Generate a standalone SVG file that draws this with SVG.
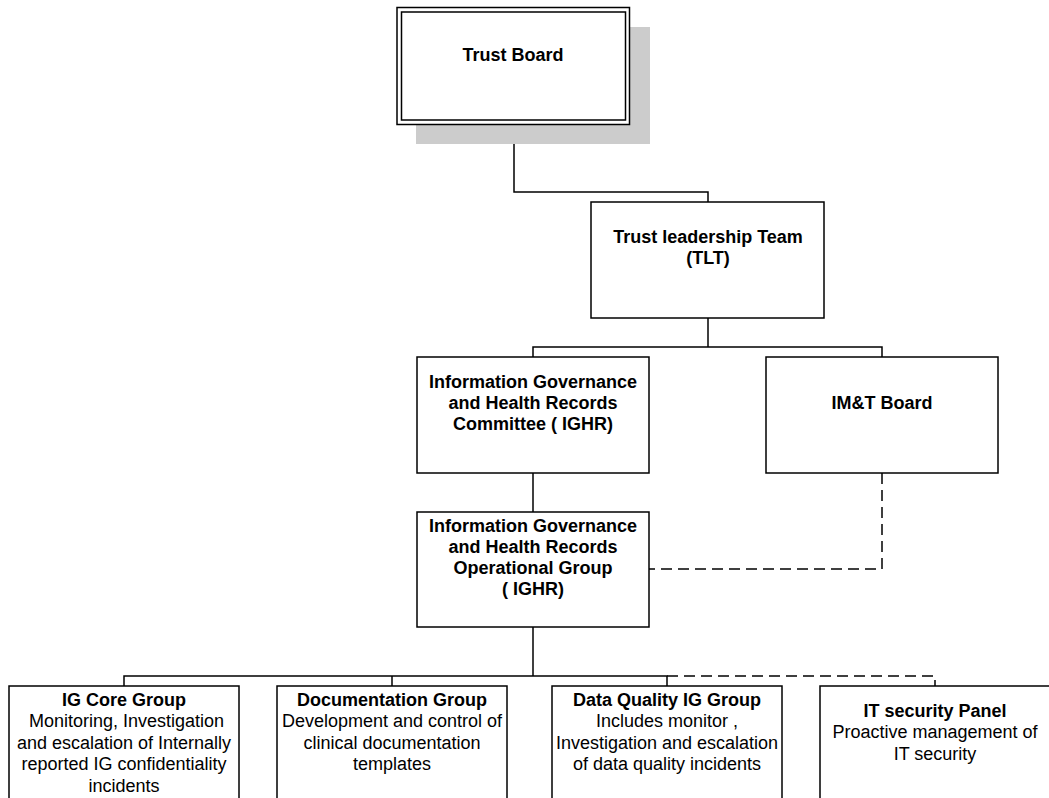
<svg xmlns="http://www.w3.org/2000/svg" width="1049" height="798" viewBox="0 0 1049 798">
<style>
.box{fill:#fff;stroke:#000;stroke-width:1.5}
.ln{fill:none;stroke:#000;stroke-width:1.5}
.dash{fill:none;stroke:#000;stroke-width:1.5;stroke-dasharray:11 6}
text{font-family:"Liberation Sans",Arial,sans-serif;font-size:18px;fill:#000;text-anchor:middle}
.b{font-weight:bold}
</style>
<rect width="1049" height="798" fill="#fff"/>
<g id="connectors">
<polyline class="ln" points="514,125 514,192 708,192 708,202"/>
<polyline class="ln" points="708,318 708,347"/>
<polyline class="ln" points="533,357 533,347 882,347 882,357"/>
<polyline class="ln" points="533,473 533,512"/>
<polyline class="dash" points="882,473 882,569 649,569"/>
<polyline class="ln" points="533,627 533,676"/>
<polyline class="ln" points="124,686 124,676 667,676 667,686"/>
<polyline class="ln" points="392,676 392,686"/>
<polyline class="dash" points="667,676 935,676 935,686"/>
</g>
<g id="trust-board">
<rect x="416" y="27" width="234" height="117" fill="#cccccc"/>
<rect class="box" x="397" y="7.5" width="232.5" height="117"/>
<rect fill="none" stroke="#000" stroke-width="1.5" x="401.5" y="12" width="224" height="108"/>
<text class="b" x="513" y="61">Trust Board</text>
</g>
<g id="tlt">
<rect class="box" x="591" y="202" width="233" height="116"/>
<text class="b" x="708" y="243">Trust leadership Team</text>
<text class="b" x="708" y="264">(TLT)</text>
</g>
<g id="ighr-committee">
<rect class="box" x="417" y="357" width="232" height="116"/>
<text class="b" x="533" y="388">Information Governance</text>
<text class="b" x="533" y="409">and Health Records</text>
<text class="b" x="533" y="430">Committee ( IGHR)</text>
</g>
<g id="imt-board">
<rect class="box" x="766" y="357" width="232" height="116"/>
<text class="b" x="882" y="409">IM&amp;T Board</text>
</g>
<g id="ighr-operational">
<rect class="box" x="417" y="512" width="232" height="115"/>
<text class="b" x="533" y="532">Information Governance</text>
<text class="b" x="533" y="553">and Health Records</text>
<text class="b" x="533" y="574">Operational Group</text>
<text class="b" x="533" y="595">( IGHR)</text>
</g>
<g id="ig-core">
<rect class="box" x="9" y="686" width="230" height="130"/>
<text class="b" x="124" y="706">IG Core Group</text>
<text x="126.5" y="727">Monitoring, Investigation</text>
<text x="124" y="749">and escalation of Internally</text>
<text x="124" y="770">reported IG confidentiality</text>
<text x="124" y="792">incidents</text>
</g>
<g id="documentation">
<rect class="box" x="277" y="686" width="230" height="130"/>
<text class="b" x="392" y="706">Documentation Group</text>
<text x="392" y="727">Development and control of</text>
<text x="392" y="749">clinical documentation</text>
<text x="392" y="770">templates</text>
</g>
<g id="data-quality">
<rect class="box" x="552" y="686" width="230" height="130"/>
<text class="b" x="667" y="706">Data Quality IG Group</text>
<text x="667" y="727">Includes monitor ,</text>
<text x="667" y="749">Investigation and escalation</text>
<text x="667" y="770">of data quality incidents</text>
</g>
<g id="it-security">
<rect class="box" x="820" y="686" width="240" height="130"/>
<text class="b" x="935" y="717">IT security Panel</text>
<text x="935" y="738">Proactive management of</text>
<text x="935" y="760">IT security</text>
</g>
</svg>
